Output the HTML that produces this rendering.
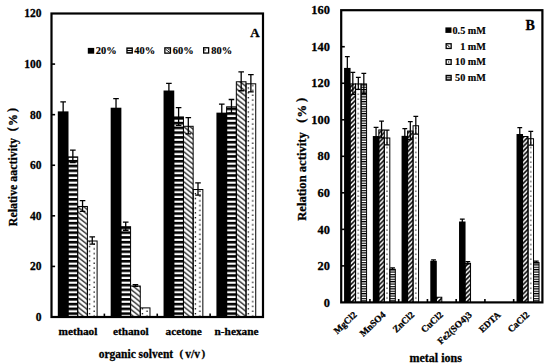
<!DOCTYPE html>
<html><head><meta charset="utf-8"><style>
html,body{margin:0;padding:0;background:#fff;}
svg{display:block;}
text{font-family:"Liberation Serif",serif;font-weight:bold;fill:#000;stroke:#000;stroke-width:0.28px;}
</style></head><body>
<svg width="550" height="364" viewBox="0 0 550 364">
<defs>
<pattern id="p1" patternUnits="userSpaceOnUse" x="68.00" y="2.745" width="20" height="4.763"><rect x="0" y="0" width="20" height="2.6" fill="#000"/></pattern>
<pattern id="p2" patternUnits="userSpaceOnUse" x="0" y="4.66" width="6.25" height="5.0"><path d="M-6.25,-5 L12.5,10 M-6.25,0 L6.25,10 M0,-5 L12.5,5" stroke="#000" stroke-width="1.15"/></pattern>
<pattern id="p3" patternUnits="userSpaceOnUse" x="87.40" y="0" width="10.2" height="4.8"><rect x="1.6" y="1.0" width="1.3" height="1.3" fill="#000"/><rect x="6.1" y="3.4" width="1.3" height="1.3" fill="#000"/></pattern>
<pattern id="p4" patternUnits="userSpaceOnUse" x="120.88" y="2.745" width="20" height="4.763"><rect x="0" y="0" width="20" height="2.6" fill="#000"/></pattern>
<pattern id="p5" patternUnits="userSpaceOnUse" x="0" y="4.66" width="6.25" height="5.0"><path d="M-6.25,-5 L12.5,10 M-6.25,0 L6.25,10 M0,-5 L12.5,5" stroke="#000" stroke-width="1.15"/></pattern>
<pattern id="p6" patternUnits="userSpaceOnUse" x="140.28" y="0" width="10.2" height="4.8"><rect x="1.6" y="1.0" width="1.3" height="1.3" fill="#000"/><rect x="6.1" y="3.4" width="1.3" height="1.3" fill="#000"/></pattern>
<pattern id="p7" patternUnits="userSpaceOnUse" x="173.75" y="2.745" width="20" height="4.763"><rect x="0" y="0" width="20" height="2.6" fill="#000"/></pattern>
<pattern id="p8" patternUnits="userSpaceOnUse" x="0" y="4.66" width="6.25" height="5.0"><path d="M-6.25,-5 L12.5,10 M-6.25,0 L6.25,10 M0,-5 L12.5,5" stroke="#000" stroke-width="1.15"/></pattern>
<pattern id="p9" patternUnits="userSpaceOnUse" x="193.15" y="0" width="10.2" height="4.8"><rect x="1.6" y="1.0" width="1.3" height="1.3" fill="#000"/><rect x="6.1" y="3.4" width="1.3" height="1.3" fill="#000"/></pattern>
<pattern id="p10" patternUnits="userSpaceOnUse" x="226.62" y="2.745" width="20" height="4.763"><rect x="0" y="0" width="20" height="2.6" fill="#000"/></pattern>
<pattern id="p11" patternUnits="userSpaceOnUse" x="0" y="4.66" width="6.25" height="5.0"><path d="M-6.25,-5 L12.5,10 M-6.25,0 L6.25,10 M0,-5 L12.5,5" stroke="#000" stroke-width="1.15"/></pattern>
<pattern id="p12" patternUnits="userSpaceOnUse" x="246.03" y="0" width="10.2" height="4.8"><rect x="1.6" y="1.0" width="1.3" height="1.3" fill="#000"/><rect x="6.1" y="3.4" width="1.3" height="1.3" fill="#000"/></pattern>
<pattern id="p13" patternUnits="userSpaceOnUse" x="350.07" y="0" width="4.6" height="4.6"><path d="M-1,5.6 L5.6,-1 M-1,1 L1,-1 M3.6,5.6 L5.6,3.6" stroke="#000" stroke-width="1.55"/></pattern>
<pattern id="p14" patternUnits="userSpaceOnUse" x="355.57" y="0" width="5.5" height="4.85"><rect x="2.0" y="1.5" width="1.4" height="1.2" fill="#333"/></pattern>
<pattern id="p15" patternUnits="userSpaceOnUse" x="361.07" y="0.3" width="20" height="2.4"><rect x="0" y="0" width="20" height="1.2" fill="#000"/></pattern>
<pattern id="p16" patternUnits="userSpaceOnUse" x="378.81" y="0" width="4.6" height="4.6"><path d="M-1,5.6 L5.6,-1 M-1,1 L1,-1 M3.6,5.6 L5.6,3.6" stroke="#000" stroke-width="1.55"/></pattern>
<pattern id="p17" patternUnits="userSpaceOnUse" x="384.31" y="0" width="5.5" height="4.85"><rect x="2.0" y="1.5" width="1.4" height="1.2" fill="#333"/></pattern>
<pattern id="p18" patternUnits="userSpaceOnUse" x="389.81" y="0.3" width="20" height="2.4"><rect x="0" y="0" width="20" height="1.2" fill="#000"/></pattern>
<pattern id="p19" patternUnits="userSpaceOnUse" x="407.56" y="0" width="4.6" height="4.6"><path d="M-1,5.6 L5.6,-1 M-1,1 L1,-1 M3.6,5.6 L5.6,3.6" stroke="#000" stroke-width="1.55"/></pattern>
<pattern id="p20" patternUnits="userSpaceOnUse" x="413.06" y="0" width="5.5" height="4.85"><rect x="2.0" y="1.5" width="1.4" height="1.2" fill="#333"/></pattern>
<pattern id="p21" patternUnits="userSpaceOnUse" x="436.30" y="0" width="4.6" height="4.6"><path d="M-1,5.6 L5.6,-1 M-1,1 L1,-1 M3.6,5.6 L5.6,3.6" stroke="#000" stroke-width="1.55"/></pattern>
<pattern id="p22" patternUnits="userSpaceOnUse" x="465.04" y="0" width="4.6" height="4.6"><path d="M-1,5.6 L5.6,-1 M-1,1 L1,-1 M3.6,5.6 L5.6,3.6" stroke="#000" stroke-width="1.55"/></pattern>
<pattern id="p23" patternUnits="userSpaceOnUse" x="522.53" y="0" width="4.6" height="4.6"><path d="M-1,5.6 L5.6,-1 M-1,1 L1,-1 M3.6,5.6 L5.6,3.6" stroke="#000" stroke-width="1.55"/></pattern>
<pattern id="p24" patternUnits="userSpaceOnUse" x="528.03" y="0" width="5.5" height="4.85"><rect x="2.0" y="1.5" width="1.4" height="1.2" fill="#333"/></pattern>
<pattern id="p25" patternUnits="userSpaceOnUse" x="533.53" y="0.3" width="20" height="2.4"><rect x="0" y="0" width="20" height="1.2" fill="#000"/></pattern>
</defs>
<rect x="0" y="0" width="550" height="364" fill="#fff"/>
<rect x="57.80" y="111.38" width="10.70" height="205.62" fill="#000"/>
<rect x="68.00" y="156.90" width="9.70" height="160.10" fill="url(#p1)" stroke="#000" stroke-width="1.00"/>
<rect x="77.70" y="206.47" width="9.70" height="110.53" fill="url(#p2)" stroke="#000" stroke-width="1.00"/>
<rect x="87.40" y="240.99" width="9.70" height="76.01" fill="url(#p3)" stroke="#000" stroke-width="1.00"/>
<rect x="110.67" y="107.71" width="10.70" height="209.29" fill="#000"/>
<rect x="120.88" y="226.70" width="9.70" height="90.30" fill="url(#p4)" stroke="#000" stroke-width="1.00"/>
<rect x="130.57" y="286.01" width="9.70" height="30.99" fill="url(#p5)" stroke="#000" stroke-width="1.00"/>
<rect x="140.28" y="307.89" width="9.70" height="9.11" fill="url(#p6)" stroke="#000" stroke-width="1.00"/>
<rect x="163.55" y="90.51" width="10.70" height="226.49" fill="#000"/>
<rect x="173.75" y="116.94" width="9.70" height="200.06" fill="url(#p7)" stroke="#000" stroke-width="1.00"/>
<rect x="183.45" y="126.30" width="9.70" height="190.70" fill="url(#p8)" stroke="#000" stroke-width="1.00"/>
<rect x="193.15" y="189.52" width="9.70" height="127.48" fill="url(#p9)" stroke="#000" stroke-width="1.00"/>
<rect x="216.43" y="112.64" width="10.70" height="204.36" fill="#000"/>
<rect x="226.62" y="106.82" width="9.70" height="210.18" fill="url(#p10)" stroke="#000" stroke-width="1.00"/>
<rect x="236.33" y="81.78" width="9.70" height="235.22" fill="url(#p11)" stroke="#000" stroke-width="1.00"/>
<rect x="246.03" y="83.80" width="9.70" height="233.20" fill="url(#p12)" stroke="#000" stroke-width="1.00"/>
<path d="M63.15,101.89 V120.86 M60.35,101.89 H65.95 M60.35,120.86 H65.95" stroke="#000" stroke-width="1.30" fill="none"/>
<path d="M72.85,150.07 V162.72 M70.05,150.07 H75.65 M70.05,162.72 H75.65" stroke="#000" stroke-width="1.30" fill="none"/>
<path d="M82.55,200.66 V211.28 M79.75,200.66 H85.35 M79.75,211.28 H85.35" stroke="#000" stroke-width="1.30" fill="none"/>
<path d="M92.25,236.95 V244.03 M89.45,236.95 H95.05 M89.45,244.03 H95.05" stroke="#000" stroke-width="1.30" fill="none"/>
<path d="M116.02,98.61 V116.82 M113.22,98.61 H118.82 M113.22,116.82 H118.82" stroke="#000" stroke-width="1.30" fill="none"/>
<path d="M125.72,222.16 V230.25 M122.92,222.16 H128.53 M122.92,230.25 H128.53" stroke="#000" stroke-width="1.30" fill="none"/>
<path d="M135.42,284.63 V286.40 M132.62,284.63 H138.22 M132.62,286.40 H138.22" stroke="#000" stroke-width="1.30" fill="none"/>
<path d="M168.90,83.43 V97.59 M166.10,83.43 H171.70 M166.10,97.59 H171.70" stroke="#000" stroke-width="1.30" fill="none"/>
<path d="M178.60,107.59 V125.29 M175.80,107.59 H181.40 M175.80,125.29 H181.40" stroke="#000" stroke-width="1.30" fill="none"/>
<path d="M188.30,117.70 V133.89 M185.50,117.70 H191.10 M185.50,133.89 H191.10" stroke="#000" stroke-width="1.30" fill="none"/>
<path d="M198.00,182.95 V195.09 M195.20,182.95 H200.80 M195.20,195.09 H200.80" stroke="#000" stroke-width="1.30" fill="none"/>
<path d="M221.78,104.04 V121.24 M218.97,104.04 H224.58 M218.97,121.24 H224.58" stroke="#000" stroke-width="1.30" fill="none"/>
<path d="M231.47,99.49 V113.15 M228.67,99.49 H234.28 M228.67,113.15 H234.28" stroke="#000" stroke-width="1.30" fill="none"/>
<path d="M241.18,71.80 V90.77 M238.38,71.80 H243.98 M238.38,90.77 H243.98" stroke="#000" stroke-width="1.30" fill="none"/>
<path d="M250.88,74.71 V91.90 M248.07,74.71 H253.68 M248.07,91.90 H253.68" stroke="#000" stroke-width="1.30" fill="none"/>
<rect x="344.07" y="67.91" width="6.50" height="234.49" fill="#000"/>
<rect x="350.07" y="83.93" width="5.50" height="218.47" fill="url(#p13)" stroke="#000" stroke-width="1.00"/>
<rect x="355.57" y="83.93" width="5.50" height="218.47" fill="url(#p14)" stroke="#000" stroke-width="1.00"/>
<rect x="361.07" y="83.93" width="5.50" height="218.47" fill="url(#p15)" stroke="#000" stroke-width="1.00"/>
<rect x="372.81" y="136.03" width="6.50" height="166.37" fill="#000"/>
<rect x="378.81" y="129.95" width="5.50" height="172.45" fill="url(#p16)" stroke="#000" stroke-width="1.00"/>
<rect x="384.31" y="137.99" width="5.50" height="164.41" fill="url(#p17)" stroke="#000" stroke-width="1.00"/>
<rect x="389.81" y="269.30" width="5.50" height="33.10" fill="url(#p18)" stroke="#000" stroke-width="1.00"/>
<rect x="401.56" y="135.85" width="6.50" height="166.55" fill="#000"/>
<rect x="407.56" y="131.05" width="5.50" height="171.35" fill="url(#p19)" stroke="#000" stroke-width="1.00"/>
<rect x="413.06" y="125.75" width="5.50" height="176.65" fill="url(#p20)" stroke="#000" stroke-width="1.00"/>
<rect x="430.30" y="260.76" width="6.50" height="41.64" fill="#000"/>
<rect x="436.30" y="297.24" width="5.50" height="5.16" fill="url(#p21)" stroke="#000" stroke-width="1.00"/>
<rect x="459.04" y="221.50" width="6.50" height="80.90" fill="#000"/>
<rect x="465.04" y="263.27" width="5.50" height="39.13" fill="url(#p22)" stroke="#000" stroke-width="1.00"/>
<rect x="516.53" y="134.02" width="6.50" height="168.38" fill="#000"/>
<rect x="522.53" y="136.53" width="5.50" height="165.87" fill="url(#p23)" stroke="#000" stroke-width="1.00"/>
<rect x="528.03" y="138.72" width="5.50" height="163.68" fill="url(#p24)" stroke="#000" stroke-width="1.00"/>
<rect x="533.53" y="262.54" width="5.50" height="39.86" fill="url(#p25)" stroke="#000" stroke-width="1.00"/>
<path d="M347.32,56.59 V79.23 M344.92,56.59 H349.72 M344.92,79.23 H349.72" stroke="#000" stroke-width="1.25" fill="none"/>
<path d="M352.82,72.48 V94.39 M350.42,72.48 H355.22 M350.42,94.39 H355.22" stroke="#000" stroke-width="1.25" fill="none"/>
<path d="M358.32,77.41 V89.46 M355.92,77.41 H360.72 M355.92,89.46 H360.72" stroke="#000" stroke-width="1.25" fill="none"/>
<path d="M363.82,73.39 V93.48 M361.42,73.39 H366.22 M361.42,93.48 H366.22" stroke="#000" stroke-width="1.25" fill="none"/>
<path d="M376.06,127.45 V144.61 M373.66,127.45 H378.46 M373.66,144.61 H378.46" stroke="#000" stroke-width="1.25" fill="none"/>
<path d="M381.56,121.05 V137.85 M379.16,121.05 H383.96 M379.16,137.85 H383.96" stroke="#000" stroke-width="1.25" fill="none"/>
<path d="M387.06,130.18 V144.79 M384.66,130.18 H389.46 M384.66,144.79 H389.46" stroke="#000" stroke-width="1.25" fill="none"/>
<path d="M392.56,267.88 V269.71 M390.16,267.88 H394.96 M390.16,269.71 H394.96" stroke="#000" stroke-width="1.25" fill="none"/>
<path d="M404.81,128.54 V143.15 M402.41,128.54 H407.21 M402.41,143.15 H407.21" stroke="#000" stroke-width="1.25" fill="none"/>
<path d="M410.31,121.60 V139.50 M407.91,121.60 H412.71 M407.91,139.50 H412.71" stroke="#000" stroke-width="1.25" fill="none"/>
<path d="M415.81,116.49 V134.02 M413.41,116.49 H418.21 M413.41,134.02 H418.21" stroke="#000" stroke-width="1.25" fill="none"/>
<path d="M433.55,259.85 V261.67 M431.15,259.85 H435.95 M431.15,261.67 H435.95" stroke="#000" stroke-width="1.25" fill="none"/>
<path d="M462.29,219.12 V223.87 M459.89,219.12 H464.69 M459.89,223.87 H464.69" stroke="#000" stroke-width="1.25" fill="none"/>
<path d="M467.79,261.67 V263.87 M465.39,261.67 H470.19 M465.39,263.87 H470.19" stroke="#000" stroke-width="1.25" fill="none"/>
<path d="M519.78,127.63 V140.41 M517.38,127.63 H522.18 M517.38,140.41 H522.18" stroke="#000" stroke-width="1.25" fill="none"/>
<path d="M530.78,131.28 V145.16 M528.38,131.28 H533.18 M528.38,145.16 H533.18" stroke="#000" stroke-width="1.25" fill="none"/>
<path d="M536.28,261.13 V262.95 M533.88,261.13 H538.68 M533.88,262.95 H538.68" stroke="#000" stroke-width="1.25" fill="none"/>
<rect x="51.50" y="13.50" width="211.50" height="303.50" fill="none" stroke="#000" stroke-width="2.2"/>
<rect x="341.20" y="10.20" width="201.20" height="292.20" fill="none" stroke="#000" stroke-width="2.2"/>
<path d="M51.50,266.42 H55.10" stroke="#000" stroke-width="1.6"/>
<path d="M51.50,215.83 H55.10" stroke="#000" stroke-width="1.6"/>
<path d="M51.50,165.25 H55.10" stroke="#000" stroke-width="1.6"/>
<path d="M51.50,114.67 H55.10" stroke="#000" stroke-width="1.6"/>
<path d="M51.50,64.08 H55.10" stroke="#000" stroke-width="1.6"/>
<path d="M104.38,317.00 V313.60" stroke="#000" stroke-width="1.6"/>
<path d="M157.25,317.00 V313.60" stroke="#000" stroke-width="1.6"/>
<path d="M210.12,317.00 V313.60" stroke="#000" stroke-width="1.6"/>
<path d="M341.20,265.88 H344.80" stroke="#000" stroke-width="1.6"/>
<path d="M341.20,229.35 H344.80" stroke="#000" stroke-width="1.6"/>
<path d="M341.20,192.82 H344.80" stroke="#000" stroke-width="1.6"/>
<path d="M341.20,156.30 H344.80" stroke="#000" stroke-width="1.6"/>
<path d="M341.20,119.77 H344.80" stroke="#000" stroke-width="1.6"/>
<path d="M341.20,83.25 H344.80" stroke="#000" stroke-width="1.6"/>
<path d="M341.20,46.72 H344.80" stroke="#000" stroke-width="1.6"/>
<path d="M369.94,302.40 V299.00" stroke="#000" stroke-width="1.6"/>
<path d="M398.69,302.40 V299.00" stroke="#000" stroke-width="1.6"/>
<path d="M427.43,302.40 V299.00" stroke="#000" stroke-width="1.6"/>
<path d="M456.17,302.40 V299.00" stroke="#000" stroke-width="1.6"/>
<path d="M484.91,302.40 V299.00" stroke="#000" stroke-width="1.6"/>
<path d="M513.66,302.40 V299.00" stroke="#000" stroke-width="1.6"/>
<text x="41.6" y="320.89" font-size="11.5" text-anchor="end">0</text>
<text x="41.6" y="270.30" font-size="11.5" text-anchor="end">20</text>
<text x="41.6" y="219.72" font-size="11.5" text-anchor="end">40</text>
<text x="41.6" y="169.14" font-size="11.5" text-anchor="end">60</text>
<text x="41.6" y="118.55" font-size="11.5" text-anchor="end">80</text>
<text x="41.6" y="67.97" font-size="11.5" text-anchor="end">100</text>
<text x="41.6" y="17.39" font-size="11.5" text-anchor="end">120</text>
<text x="250.3" y="37.1" font-size="13">A</text>
<rect x="87.8" y="47.9" width="6.4" height="5.8" fill="#000"/>
<rect x="126.3" y="47.4" width="6.6" height="6.3" fill="#000"/>
<rect x="127.6" y="48.9" width="4.0" height="1.0" fill="#fff"/><rect x="127.6" y="51.1" width="4.0" height="1.0" fill="#fff"/>
<rect x="164.2" y="47.2" width="6.9" height="6.6" fill="#000"/>
<rect x="165.5" y="48.5" width="4.3" height="4.0" fill="#fff"/>
<path d="M165.5,49.2 L169.8,52.5 M167.5,48.5 L169.8,50.2" stroke="#000" stroke-width="0.9"/>
<rect x="203.0" y="47.1" width="6.3" height="6.6" fill="#000"/>
<rect x="204.3" y="48.4" width="3.7" height="4.0" fill="#fff"/>
<rect x="204.3" y="49.5" width="1.6" height="0.9" fill="#000"/>
<text x="95.80" y="54.0" font-size="10.4" style="stroke-width:0.15px">20%</text>
<text x="134.30" y="54.0" font-size="10.4" style="stroke-width:0.15px">40%</text>
<text x="172.80" y="54.0" font-size="10.4" style="stroke-width:0.15px">60%</text>
<text x="211.30" y="54.0" font-size="10.4" style="stroke-width:0.15px">80%</text>
<text x="77.94" y="334.8" font-size="11.3" text-anchor="middle">methaol</text>
<text x="130.81" y="334.8" font-size="11.3" text-anchor="middle">ethanol</text>
<text x="183.69" y="334.8" font-size="11.3" text-anchor="middle">acetone</text>
<text x="236.56" y="334.8" font-size="11.3" text-anchor="middle">n-hexane</text>
<text x="98.7" y="358.1" font-size="11.5">organic solvent</text>
<text x="179.4" y="357.4" font-size="11" font-weight="normal">(</text>
<text x="185.3" y="358.1" font-size="11.5">v/v</text>
<text x="201.4" y="357.4" font-size="11" font-weight="normal">)</text>
<g transform="translate(16.8,226.2) rotate(-90)">
<text x="0" y="0" font-size="11.9">Relative aactivity</text>
<text x="95.0" y="-1.3" font-size="12" font-weight="normal">(</text>
<text x="100.1" y="0" font-size="11.9">%</text>
<text x="114.3" y="-1.3" font-size="12" font-weight="normal">)</text>
</g>
<text x="329.9" y="306.59" font-size="12.4" text-anchor="end">0</text>
<text x="329.9" y="270.07" font-size="12.4" text-anchor="end">20</text>
<text x="329.9" y="233.54" font-size="12.4" text-anchor="end">40</text>
<text x="329.9" y="197.02" font-size="12.4" text-anchor="end">60</text>
<text x="329.9" y="160.49" font-size="12.4" text-anchor="end">80</text>
<text x="329.9" y="123.97" font-size="12.4" text-anchor="end">100</text>
<text x="329.9" y="87.44" font-size="12.4" text-anchor="end">120</text>
<text x="329.9" y="50.92" font-size="12.4" text-anchor="end">140</text>
<text x="329.9" y="14.39" font-size="12.4" text-anchor="end">160</text>
<text x="525.6" y="29.8" font-size="14">B</text>
<rect x="445.4" y="27.40" width="6.1" height="5.5" fill="#000"/>
<rect x="445.5" y="43.10" width="6.3" height="6.0" fill="#000"/>
<rect x="446.8" y="44.40" width="3.7" height="3.4" fill="#fff"/>
<path d="M446.8,44.40 L449.6,47.30" stroke="#000" stroke-width="1.0"/>
<rect x="445.5" y="59.00" width="6.3" height="6.0" fill="#000"/>
<rect x="446.8" y="60.30" width="3.7" height="3.4" fill="#fff"/>
<rect x="448.1" y="61.40" width="1.1" height="1.2" fill="#000"/>
<rect x="445.5" y="74.80" width="6.3" height="6.0" fill="#000"/>
<rect x="446.8" y="76.40" width="3.7" height="0.9" fill="#fff"/><rect x="446.8" y="78.30" width="3.7" height="0.9" fill="#fff"/>
<text x="485.9" y="33.60" font-size="10.2" text-anchor="end" style="stroke-width:0.15px">0.5 mM</text>
<text x="485.9" y="49.50" font-size="10.2" text-anchor="end" style="stroke-width:0.15px">1 mM</text>
<text x="485.9" y="65.40" font-size="10.2" text-anchor="end" style="stroke-width:0.15px">10 mM</text>
<text x="485.9" y="81.20" font-size="10.2" text-anchor="end" style="stroke-width:0.15px">50 mM</text>
<text transform="translate(357.37,315.6) rotate(-43)" font-size="9.4" text-anchor="end">MgCl2</text>
<text transform="translate(386.11,315.6) rotate(-43)" font-size="9.4" text-anchor="end">MnSO4</text>
<text transform="translate(414.86,315.6) rotate(-43)" font-size="9.4" text-anchor="end">ZnCl2</text>
<text transform="translate(443.60,315.6) rotate(-43)" font-size="9.4" text-anchor="end">CuCl2</text>
<text transform="translate(472.34,315.6) rotate(-43)" font-size="9.4" text-anchor="end">Fe2(SO4)3</text>
<text transform="translate(501.09,315.6) rotate(-43)" font-size="9.4" text-anchor="end">EDTA</text>
<text transform="translate(529.83,315.6) rotate(-43)" font-size="9.4" text-anchor="end">CaCl2</text>
<text x="409.5" y="362.1" font-size="12">metal ions</text>
<g transform="translate(306.2,220.8) rotate(-90)">
<text x="0" y="0" font-size="12.6">Relation activity</text>
<text x="98.0" y="-1.0" font-size="12.6" font-weight="normal">(</text>
<text x="103.4" y="0" font-size="12.6">%</text>
<text x="118.8" y="-1.0" font-size="12.6" font-weight="normal">)</text>
</g>
</svg>
</body></html>
